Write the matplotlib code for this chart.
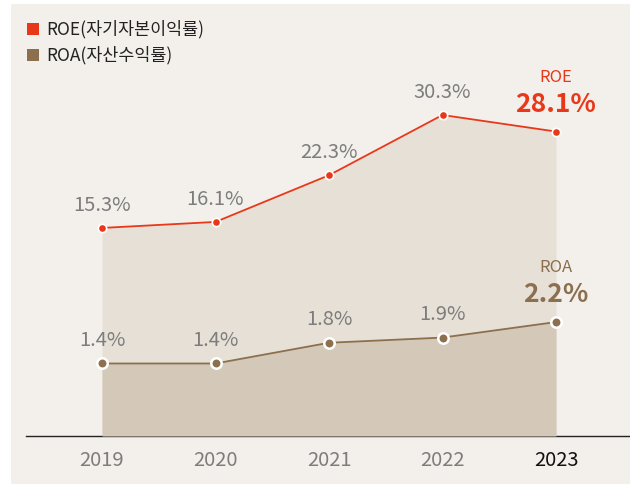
import numpy as np
from matplotlib import pyplot as plt
from matplotlib.patches import Rectangle

plt.rcParams['font.family'] = ['Noto Sans CJK KR', 'DejaVu Sans']

# data
years = ['2019', '2020', '2021', '2022', '2023']
roe = [15.3, 16.1, 22.3, 30.3, 28.1]  # %
roa = [1.4, 1.4, 1.8, 1.9, 2.2]  # %

roe_color = '#e8381a'
roa_color = '#8b6f4e'
roe_fill = '#e7e0d6'
roa_fill = '#d4c9b8'
bg = '#f3f0eb'
label_grey = '#7d7d7d'

W, H = 630, 484
fig = plt.figure(figsize=(W / 100, H / 100), dpi=100)
fig.patch.set_facecolor('white')
fig.patches.append(Rectangle((11 / W, 0), 1, (H - 4) / H, transform=fig.transFigure,
                             facecolor=bg, edgecolor='none', zorder=-10))

# axes: x from 26px to 630px, y from baseline 436px up to 40px
ax_left, ax_bottom = 26 / W, (H - 436) / H
ax = fig.add_axes([ax_left, ax_bottom, 1 - ax_left, (436 - 40) / H])
ax.set_facecolor('none')
x = np.arange(len(years))
step = 113.5  # px per year
ax.set_xlim((26 - 102) / step, (630 - 102) / step)

# ROE scale (not from zero)
roe_lo, roe_hi = -12.33, 40.26
ax.set_ylim(roe_lo, roe_hi)
ax.fill_between(x, roe, roe_lo, color=roe_fill, lw=0, zorder=1)
ax.plot(x, roe, color=roe_color, lw=1.3, zorder=3)
ax.plot(x, roe, 'o', ms=6, mfc=roe_color, mec='white', mew=1.2, zorder=4)

ax2 = ax.twinx()
ax2.set_ylim(0, 396 / 51.8)
ax2.fill_between(x, roa, 0, color=roa_fill, lw=0, zorder=1)
ax2.plot(x, roa, color=roa_color, lw=1.3, zorder=3)
ax2.plot(x, roa, 'o', ms=7.5, mfc=roa_color, mec='white', mew=1.8, zorder=4)

for a in (ax, ax2):
    for s in ['top', 'left', 'right']:
        a.spines[s].set_visible(False)
    a.set_yticks([])
ax2.spines['bottom'].set_visible(False)
ax.spines['bottom'].set_color('#222222')
ax.spines['bottom'].set_linewidth(1.0)

ax.set_xticks(x)
ax.set_xticklabels(years, fontsize=14.5)
ax.tick_params(axis='x', length=0, pad=10)
for i, t in enumerate(ax.get_xticklabels()):
    t.set_color('#111111' if i == len(years) - 1 else label_grey)

# value labels
for i in range(len(years) - 1):
    ax.annotate(f'{roe[i]}%', (x[i], roe[i]), xytext=(0, 16.5), textcoords='offset points',
                ha='center', va='center', fontsize=14.5, color=label_grey)
    ax2.annotate(f'{roa[i]}%', (x[i], roa[i]), xytext=(0, 16.5), textcoords='offset points',
                 ha='center', va='center', fontsize=14.5, color=label_grey)

# last year highlight
ax.annotate('ROE', (x[-1], roe[-1]), xytext=(0, 39), textcoords='offset points',
            ha='center', va='center', fontsize=12, color=roe_color)
ax.annotate(f'{roe[-1]}%', (x[-1], roe[-1]), xytext=(0, 19.5), textcoords='offset points',
            ha='center', va='center', fontsize=19, fontweight='bold', color=roe_color)
ax2.annotate('ROA', (x[-1], roa[-1]), xytext=(0, 39), textcoords='offset points',
             ha='center', va='center', fontsize=12, color=roa_color)
ax2.annotate(f'{roa[-1]}%', (x[-1], roa[-1]), xytext=(0, 19.5), textcoords='offset points',
             ha='center', va='center', fontsize=19, fontweight='bold', color=roa_color)

# legend
for yy, c, lab in [(29, roe_color, 'ROE(자기자본이익률)'), (55, roa_color, 'ROA(자산수익률)')]:
    fig.patches.append(Rectangle((27 / W, (H - yy - 6) / H), 12 / W, 12 / H,
                                 transform=fig.transFigure, facecolor=c, edgecolor='none'))
    fig.text(46 / W, (H - yy) / H, lab, fontsize=12.5, color='#222222', va='center', ha='left')

fig.savefig('out.png', dpi=100)
